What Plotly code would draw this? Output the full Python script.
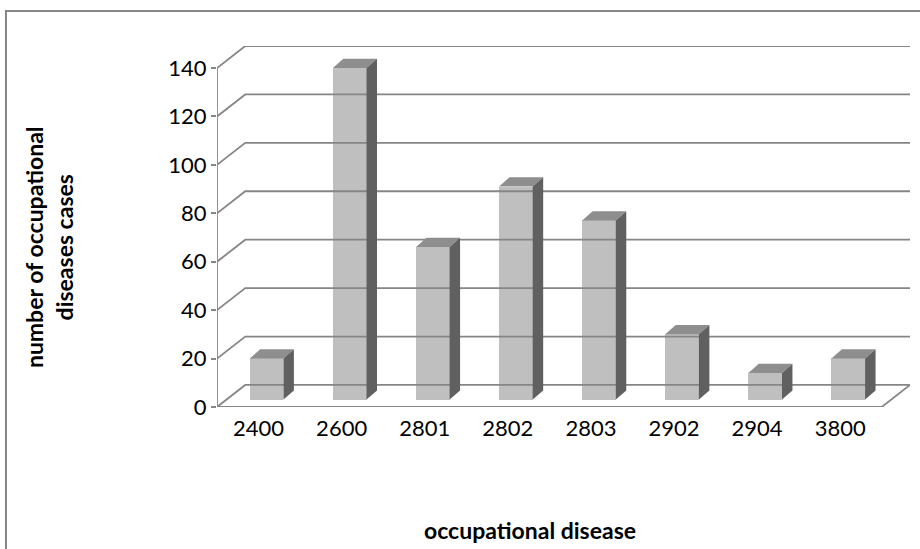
import plotly.graph_objects as go

categories = ["2400", "2600", "2801", "2802", "2803", "2902", "2904", "3800"]
cases = [17, 137, 63, 88, 74, 27, 11, 17]
y_ticks = [0, 20, 40, 60, 80, 100, 120, 140]

# oblique 3-D geometry (category units / value units)
DX, DY = 0.34, 9.1          # wall depth offset
BAR_SHIFT, BAR_W = 0.597, 0.405
BAR_BASE = 3.06
BDX, BDY = 0.126, 3.8       # bar depth offset

GRID = "#868686"
FRONT, TOP, SIDE = "#BFBFBF", "#8E8E8E", "#606060"
FONT = "Lato"

n = len(categories)
fig = go.Figure()

def line(xs, ys, w=1.8):
    fig.add_trace(go.Scatter(x=xs, y=ys, mode="lines", line=dict(color=GRID, width=w),
                             hoverinfo="skip", showlegend=False, cliponaxis=False))

# back wall gridlines with left-side diagonals
for v in y_ticks:
    line([0, DX, n + DX], [v, v + DY, v + DY])
# floor
line([0, n, n + DX], [0, 0, DY])
# front value axis line
line([0, 0], [0, y_ticks[-1]])

# bars: front faces
xs = [i + BAR_SHIFT for i in range(n)]
fig.add_trace(go.Bar(x=xs, y=cases, base=[BAR_BASE] * n, width=BAR_W,
                     marker=dict(color=FRONT, line=dict(width=0)),
                     showlegend=False, hoverinfo="skip"))
# bars: top and side faces
for x, v in zip(xs, cases):
    xl, xr = x - BAR_W / 2, x + BAR_W / 2
    top = BAR_BASE + v
    fig.add_trace(go.Scatter(x=[xl, xl + BDX, xr + BDX, xr, xl],
                             y=[top, top + BDY, top + BDY, top, top],
                             fill="toself", fillcolor=TOP, mode="lines",
                             line=dict(width=0, color=TOP), hoverinfo="skip",
                             showlegend=False, cliponaxis=False))
    fig.add_trace(go.Scatter(x=[xr, xr + BDX, xr + BDX, xr, xr],
                             y=[BAR_BASE, BAR_BASE + BDY, top + BDY, top, BAR_BASE],
                             fill="toself", fillcolor=SIDE, mode="lines",
                             line=dict(width=0, color=SIDE), hoverinfo="skip",
                             showlegend=False, cliponaxis=False))

fig.update_layout(
    width=920, height=549,
    margin=dict(l=217, r=10, t=46, b=142),
    paper_bgcolor="white", plot_bgcolor="white",
    font=dict(family=FONT, color="black"),
    bargap=0,
    xaxis=dict(range=[0, n + DX], showgrid=False, zeroline=False, showline=False,
               tickmode="array", tickvals=[i + 0.5 for i in range(n)], ticktext=categories,
               ticks="", ticklabelstandoff=6, tickfont=dict(size=22, family=FONT)),
    yaxis=dict(range=[0, y_ticks[-1] + DY], showgrid=False, zeroline=False, showline=False,
               tickmode="array", tickvals=y_ticks, ticks="outside", ticklen=5,
               tickcolor=GRID, tickwidth=1.8, tickfont=dict(size=22, family=FONT)),
    annotations=[
        dict(text="<b>number of occupational<br>diseases cases</b>", xref="paper", yref="paper",
             x=-0.2424, y=0.443, xanchor="center", yanchor="middle", showarrow=False,
             textangle=-90, font=dict(size=23, family=FONT), align="center"),
        dict(text="<b>occupational disease</b>", xref="paper", yref="paper",
             x=0.451, y=-0.341, xanchor="center", yanchor="middle", showarrow=False,
             font=dict(size=23, family=FONT)),
    ],
    shapes=[dict(type="rect", xref="paper", yref="paper", x0=-0.3045, x1=2, y0=-2, y1=1.097,
                 line=dict(color=GRID, width=2), layer="below")],
)

fig.write_html("out.html", config={"displayModeBar": False},
               post_script="document.body.style.margin='0';")
